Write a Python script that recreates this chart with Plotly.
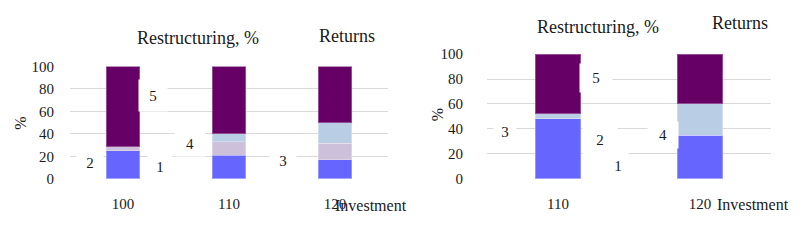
import plotly.graph_objects as go

# The page adds an 8px body margin; size the figure so page == 806x240.
OFF = 8
W, H = 806 - 2 * OFF, 240 - 2 * OFF

# ---- data ----
left_categories = ["100", "110", "120"]
left_s1 = [25, 21, 17]        # blue
left_s2 = [3.5, 12, 14.5]     # lilac
left_s3 = [0, 7, 18.5]        # light blue
left_s4 = [71.5, 60, 50]      # purple

right_categories = ["110", "120"]
right_s1 = [48, 35]
right_s2 = [0, 0]
right_s3 = [4, 25]
right_s4 = [48, 40]

y_ticks = [0, 20, 40, 60, 80, 100]
series_names = ["1", "2", "3", "4"]
colors = ["#6666FF", "#CCC0DA", "#B9CDE5", "#660066"]

FONT = "Liberation Serif"
TXT = "#1a1a1a"
GRID = "#d9d9d9"

def px(x):
    return (x - OFF) / W

def py(y):
    return 1 - (y - OFF) / H

fig = go.Figure()
left_series = [left_s1, left_s2, left_s3, left_s4]
right_series = [right_s1, right_s2, right_s3, right_s4]
for name, col, vals in zip(series_names, colors, left_series):
    fig.add_trace(go.Bar(x=left_categories, y=vals, name=name, marker_color=col,
                         marker_line=dict(color="rgba(255,255,255,0.3)", width=1),
                         xaxis="x", yaxis="y", showlegend=False))
for name, col, vals in zip(series_names, colors, right_series):
    fig.add_trace(go.Bar(x=right_categories, y=vals, name=name, marker_color=col,
                         marker_line=dict(color="rgba(255,255,255,0.3)", width=1),
                         xaxis="x2", yaxis="y2", showlegend=False))

tickfont = dict(family=FONT, size=15, color=TXT)
common_y = dict(range=[0, 100], tickvals=y_ticks, showgrid=True, gridcolor=GRID,
                gridwidth=1, zeroline=False, showline=False, tickfont=tickfont,
                ticks="outside", tickcolor="rgba(0,0,0,0)", fixedrange=True)
common_x = dict(type="category", showgrid=False, zeroline=False, showline=False,
                tickfont=tickfont, ticks="outside", tickcolor="rgba(0,0,0,0)", ticklen=11)

fig.update_layout(
    width=W, height=H,
    margin=dict(l=0, r=0, t=0, b=0),
    paper_bgcolor="white", plot_bgcolor="white",
    barmode="stack", bargap=0.68,
    font=dict(family=FONT, color=TXT),
    xaxis=dict(domain=[px(70), px(388)], anchor="y", range=[-0.5, 2.5], **common_x),
    yaxis=dict(domain=[py(183.3), py(62.3)], anchor="x", ticklen=12, **common_y),
    xaxis2=dict(domain=[px(487), px(771)], anchor="y2", range=[-0.5, 1.5], **common_x),
    yaxis2=dict(domain=[py(183.3), py(49)], anchor="x2", ticklen=20, **common_y),
)

ann = []
def text(t, x, y, size, xanchor="center", angle=0):
    ann.append(dict(text=t, x=px(x), y=py(y), xref="paper", yref="paper",
                    xanchor=xanchor, yanchor="middle", showarrow=False, textangle=angle,
                    font=dict(family=FONT, size=size, color=TXT)))

def box(t, cx, cy, w, h):
    ann.append(dict(text=t, x=px(cx), y=py(cy), xref="paper", yref="paper",
                    xanchor="center", yanchor="middle", showarrow=False,
                    width=w, height=h, bgcolor="white", borderpad=0,
                    font=dict(family=FONT, size=15, color=TXT)))

# titles
text("Restructuring, %", 197.5, 32, 18)
text("Returns", 347, 29, 18)
text("Restructuring, %", 597.5, 20, 18)
text("Returns", 740, 15, 18)
text("%", 21, 124, 16, angle=-90)
text("%", 437, 115, 16, angle=-90)
text("Investment", 333, 212, 16, xanchor="left")
text("Investment", 715, 211, 16, xanchor="left")

# numbered markers (left)
box("5", 153, 93.5, 28, 31)
box("2", 90, 166, 26, 28)
box("1", 160, 171, 24, 28)
box("4", 190, 146, 30, 24)
box("3", 283, 164, 26, 26)
# numbered markers (right)
box("5", 596, 75, 32, 28)
box("3", 505, 133, 22, 26)
box("2", 600, 142, 34, 28)
box("1", 618, 169, 20, 26)
box("4", 662.5, 136, 30, 26)

fig.update_layout(annotations=ann)
fig.write_html("out.html")
